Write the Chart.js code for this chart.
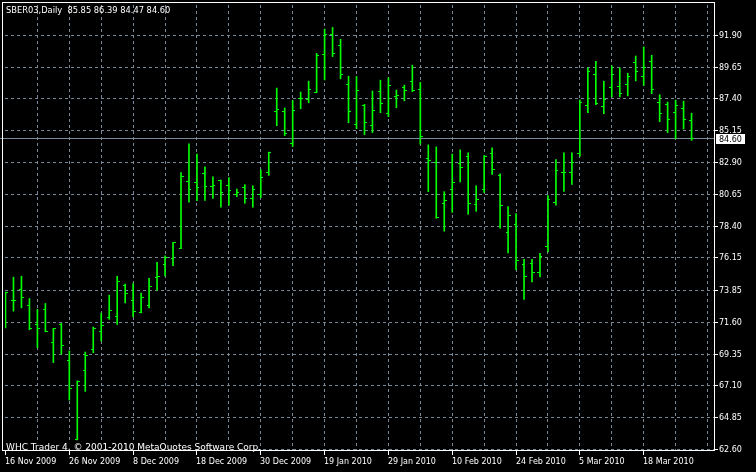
<!DOCTYPE html>
<html>
<head>
<meta charset="utf-8">
<script src="https://cdn.jsdelivr.net/npm/chart.js@4.4.1/dist/chart.umd.min.js"></script>
<style>
html,body{margin:0;padding:0;background:#000;}
#wrap{width:756px;height:472px;position:relative;}
canvas{display:block;}
</style>
</head>
<body>
<div id="wrap"><canvas id="c" width="756" height="472"></canvas></div>
<script>
// ---------- data ----------
const chartTitle = 'SBER03,Daily  85.85 86.39 84.47 84.60';
const copyrightText = 'WHC Trader 4, \u00A9 2001-2010 MetaQuotes Software Corp.';
const xTickLabels = ['16 Nov 2009','26 Nov 2009','8 Dec 2009','18 Dec 2009','30 Dec 2009','19 Jan 2010','29 Jan 2010','10 Feb 2010','24 Feb 2010','5 Mar 2010','18 Mar 2010'];
const yTickLabels = ['62.60','64.85','67.10','69.35','71.60','73.85','76.15','78.40','80.65','82.90','85.15','87.40','89.65','91.90'];

const opens = [72.40,73.14,73.92,72.81,71.45,72.51,70.19,71.47,68.92,63.28,
  68.21,69.69,70.96,71.92,72.02,74.20,73.14,72.30,72.81,74.76,
  75.72,76.14,76.85,81.53,81.46,82.16,81.24,81.62,81.31,80.63,
  81.17,80.33,80.61,82.20,86.53,86.53,84.27,87.41,87.39,87.86,
  90.54,91.95,91.20,88.43,85.61,86.95,85.54,87.94,86.39,87.58,
  88.22,88.64,88.08,83.22,82.91,79.98,80.96,82.86,83.36,79.93,
  80.96,83.57,81.97,77.95,78.50,75.68,75.75,75.14,76.95,80.05,
  82.23,82.23,83.57,86.95,89.13,86.88,88.24,88.31,88.43,89.98,
  89.01,90.05,87.16,87.04,86.46,86.74,85.85];
const highs = [73.73,74.79,74.86,73.28,72.51,72.93,71.17,71.52,69.57,67.46,
  69.50,71.26,72.25,73.52,74.86,74.31,74.34,73.66,74.71,75.84,
  76.31,77.25,82.20,84.22,83.50,82.60,81.90,81.67,81.83,81.03,
  81.34,81.26,82.39,83.64,88.17,86.76,87.30,87.89,88.66,90.63,
  92.34,92.46,91.62,89.01,88.99,87.02,87.96,88.73,88.89,88.03,
  88.38,89.79,88.57,84.15,84.01,80.84,83.50,83.80,83.59,81.26,
  83.40,83.94,82.11,79.79,79.29,76.05,76.05,76.48,80.56,83.12,
  83.59,83.59,87.34,89.60,90.07,88.66,89.74,89.60,89.22,90.44,
  91.08,90.49,87.70,87.18,87.32,87.25,86.39];
const lows = [71.21,72.39,72.62,71.07,69.81,70.93,68.75,69.34,66.10,63.28,
  66.71,69.45,70.28,71.81,71.45,72.97,71.99,72.27,72.62,73.87,
  74.88,75.61,76.81,80.09,80.21,80.23,80.37,79.74,79.88,80.49,
  80.02,79.74,80.42,81.99,85.51,84.81,84.03,86.71,87.13,87.84,
  88.75,90.40,88.82,85.72,85.30,84.88,85.02,86.43,86.15,86.78,
  87.27,87.91,84.20,80.84,78.96,78.05,79.38,81.53,79.24,79.45,
  80.79,82.06,78.26,76.50,75.33,73.21,74.45,74.81,76.57,79.88,
  80.86,81.36,83.36,86.43,86.99,86.36,87.55,87.55,87.62,88.68,
  88.36,87.77,85.79,85.02,84.58,85.28,84.47];
const closes = [73.73,73.14,73.38,71.17,71.17,70.98,71.17,69.97,66.95,67.41,
  69.27,71.19,71.40,72.44,74.52,73.64,72.37,73.38,74.13,74.83,
  76.19,77.23,81.95,80.96,81.17,81.19,81.31,80.75,80.89,80.75,
  80.35,80.96,81.83,83.64,86.67,84.98,86.60,87.41,88.08,90.49,
  91.95,90.61,89.13,86.48,88.01,85.75,86.60,87.09,88.36,87.65,
  88.01,88.01,84.77,83.08,78.99,80.19,81.46,82.58,80.00,80.26,
  83.31,82.44,79.83,79.13,75.96,74.83,75.12,76.24,80.26,82.37,
  82.23,82.93,87.16,89.34,87.09,87.37,89.13,87.79,89.01,89.34,
  89.63,88.08,86.34,85.96,86.97,85.96,84.60];

// ---------- styling / layout ----------
const BAR = '#00ff00';
const GRID = '#778899';
const FONT = '8px "DejaVu Sans", Verdana, sans-serif';
const TITLE_FONT = '8.3px "DejaVu Sans", Verdana, sans-serif';
const COPY_FONT = '9px "DejaVu Sans", Verdana, sans-serif';
const PX_PER_BAR = 8;
const BARS_PER_GRID = 4;
const BARS_PER_LABEL = 8;
const AREA = {left: 3, top: 3, right: 714, bottom: 450};
const yLo = parseFloat(yTickLabels[0]);
const yHi = parseFloat(yTickLabels[yTickLabels.length - 1]);
const yPxPerUnit = 416 / (yHi - yLo);
const yMin = yLo - 0.5 / yPxPerUnit;
const yMax = yMin + (AREA.bottom - AREA.top) / yPxPerUnit;
const xMin = -0.5 / PX_PER_BAR;
const xMax = xMin + (AREA.right - AREA.left) / PX_PER_BAR;

function tickImage(side) {
  const c = document.createElement('canvas');
  c.width = 5; c.height = 1;
  const g = c.getContext('2d');
  g.fillStyle = BAR;
  g.fillRect(side === 'left' ? 0 : 3, 0, 2, 1);
  return c;
}

const decor = {
  id: 'decor',
  beforeDraw(chart) {
    const ctx = chart.ctx;
    ctx.save();
    ctx.fillStyle = '#000';
    ctx.fillRect(0, 0, chart.width, chart.height);
    ctx.restore();
  },
  beforeDatasetsDraw(chart) {
    const ctx = chart.ctx;
    const ys = chart.scales.y;
    const last = closes[closes.length - 1];
    const py = Math.round(ys.getPixelForValue(last) - 0.5);
    ctx.save();
    ctx.fillStyle = GRID;
    ctx.fillRect(0, py, AREA.right, 1);
    ctx.restore();
    ctx.imageSmoothingEnabled = false;
  },
  afterDraw(chart) {
    const ctx = chart.ctx;
    const xs = chart.scales.x, ys = chart.scales.y;
    ctx.save();
    ctx.font = FONT;
    ctx.textBaseline = 'alphabetic';
    ctx.textAlign = 'left';
    // y labels
    ctx.fillStyle = '#fff';
    yTickLabels.forEach(t => {
      const py = Math.round(ys.getPixelForValue(parseFloat(t)) - 0.5);
      ctx.fillRect(AREA.right + 1, py, 3, 1);
      ctx.fillText(t, 719, py + 3);
    });
    // x labels
    xTickLabels.forEach((t, k) => {
      const px = Math.round(xs.getPixelForValue(k * BARS_PER_LABEL) - 0.5);
      ctx.fillStyle = '#fff';
      ctx.fillRect(px, AREA.bottom + 1, 1, 4);
      ctx.fillText(t, px, 464);
    });
    // title
    ctx.font = TITLE_FONT;
    ctx.fillText(chartTitle, 6, 13);
    // copyright
    ctx.fillStyle = '#000';
    ctx.fillRect(3, 441, 255, 9);
    ctx.fillStyle = '#fff';
    ctx.font = COPY_FONT;
    ctx.fillText(copyrightText, 6, 450);
    // frame
    ctx.strokeStyle = '#fff';
    ctx.lineWidth = 1;
    ctx.strokeRect(2.5, 2.5, AREA.right - 2, AREA.bottom - 2);
    // current price label
    ctx.font = FONT;
    const last = closes[closes.length - 1];
    const py = Math.round(ys.getPixelForValue(last) - 0.5);
    ctx.fillStyle = '#fff';
    ctx.fillRect(716, py - 4, 29, 10);
    ctx.fillStyle = '#000';
    ctx.fillText(last.toFixed(2), 719, py + 4);
    ctx.restore();
  }
};

new Chart(document.getElementById('c'), {
  type: 'bar',
  data: {
    datasets: [
      {
        type: 'bar',
        data: highs.map((h, i) => ({x: i, y: [lows[i], h]})),
        backgroundColor: BAR,
        borderWidth: 0,
        barThickness: 1,
        grouped: false,
        clip: 0
      },
      {
        type: 'scatter',
        data: opens.map((o, i) => ({x: i, y: o})),
        pointStyle: tickImage('left'),
        pointRadius: 2,
        clip: 0
      },
      {
        type: 'scatter',
        data: closes.map((c, i) => ({x: i, y: c})),
        pointStyle: tickImage('right'),
        pointRadius: 2,
        clip: 0
      }
    ]
  },
  options: {
    responsive: false,
    devicePixelRatio: 1,
    animation: false,
    layout: {padding: {left: AREA.left, top: AREA.top, right: 756 - AREA.right, bottom: 472 - AREA.bottom}},
    plugins: {legend: {display: false}, tooltip: {enabled: false}},
    scales: {
      x: {
        type: 'linear', min: xMin, max: xMax, offset: false,
        grid: {color: GRID, lineWidth: 1, drawTicks: false, offset: false},
        border: {display: false, dash: [3, 3]},
        ticks: {display: false},
        afterBuildTicks: s => {
          const t = [];
          for (let v = BARS_PER_GRID; v <= xMax; v += BARS_PER_GRID) t.push({value: v});
          s.ticks = t;
        },
        afterFit: s => { s.height = 0; }
      },
      y: {
        type: 'linear', min: yMin, max: yMax,
        grid: {color: GRID, lineWidth: 1, drawTicks: false},
        border: {display: false, dash: [3, 3]},
        ticks: {display: false},
        afterBuildTicks: s => { s.ticks = yTickLabels.map(t => ({value: parseFloat(t)})); },
        afterFit: s => { s.width = 0; }
      }
    }
  },
  plugins: [decor]
});
</script>
</body>
</html>
